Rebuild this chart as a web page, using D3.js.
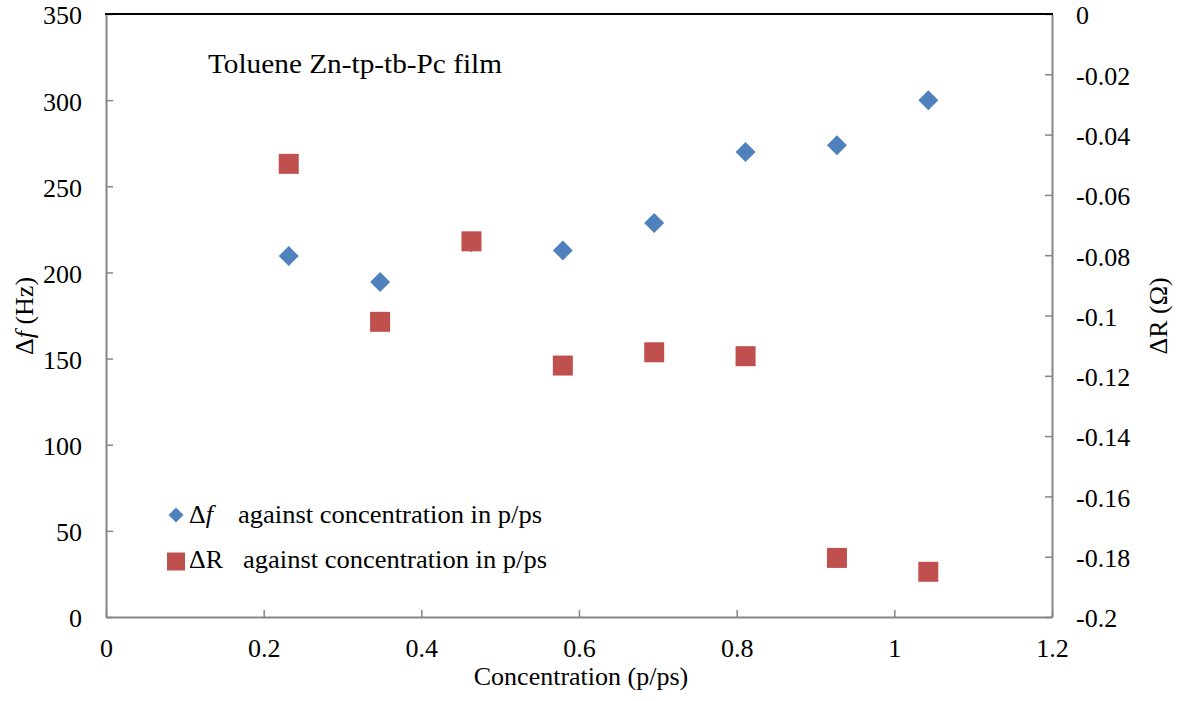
<!DOCTYPE html>
<html><head><meta charset="utf-8">
<script src="https://cdn.jsdelivr.net/npm/d3@7"></script>
<style>
html,body{margin:0;padding:0;background:#fff;}
</style></head>
<body><svg id="c" width="1179" height="701"></svg>
<script>
const concentration = [0.2318, 0.3477, 0.4636, 0.5795, 0.6954, 0.8113, 0.9272, 1.0431];
const deltaF = [209.5, 194.5, 217.5, 212.8, 228.7, 269.9, 273.8, 299.9];
const deltaR = [-0.0497, -0.1021, -0.0754, -0.1166, -0.1122, -0.1135, -0.1804, -0.1850];
const xTicks = [0, 0.2, 0.4, 0.6, 0.8, 1, 1.2];
const yLeftTicks = [0, 50, 100, 150, 200, 250, 300, 350];
const yRightTicks = [0, -0.02, -0.04, -0.06, -0.08, -0.1, -0.12, -0.14, -0.16, -0.18, -0.2];
const titleText = "Toluene Zn-tp-tb-Pc film";
const legendLabels = ["against concentration in p/ps", "against concentration in p/ps"];

const FONT = "Liberation Serif, Tinos, Times New Roman, DejaVu Serif, serif";
const m = {left:106, right:1052, top:14, bottom:617};
const svg = d3.select("#c").attr("font-family",FONT);
const x = d3.scaleLinear().domain([0,1.2]).range([m.left,m.right]);
const yL = d3.scaleLinear().domain([0,350]).range([m.bottom,m.top]);
const yR = d3.scaleLinear().domain([-0.2,0]).range([m.bottom,m.top]);
const FS = 26;
const blue = "#4F81BD", red = "#C0504D", axisCol = "#868686";

const gx = svg.append("g").attr("transform",`translate(0,${m.bottom})`)
  .call(d3.axisBottom(x).tickValues(xTicks).tickSizeInner(-7).tickSizeOuter(0).tickPadding(22).tickFormat(d=>String(d)));
const gl = svg.append("g").attr("transform",`translate(${m.left},0)`)
  .call(d3.axisLeft(yL).tickValues(yLeftTicks).tickSizeInner(-7).tickSizeOuter(0).tickPadding(24).tickFormat(d=>String(d)));
const gr = svg.append("g").attr("transform",`translate(${m.right},0)`)
  .call(d3.axisRight(yR).tickValues(yRightTicks).tickSizeInner(-7).tickSizeOuter(0).tickPadding(24).tickFormat(d=>String(+d.toFixed(2))));
[gx,gl,gr].forEach(g=>{
  g.attr("font-family",FONT).attr("font-size",FS);
  g.select(".domain").attr("stroke",axisCol).attr("stroke-width",2);
  g.selectAll(".tick line").attr("stroke",axisCol).attr("stroke-width",1.5);
  g.selectAll("text").attr("fill","#000");
});
gx.selectAll("text").attr("dy","0.71em");
gl.selectAll("text").attr("dy","0.38em");
gr.selectAll("text").attr("dy","0.38em");
svg.append("line").attr("x1",m.left-1).attr("x2",m.right+1).attr("y1",m.top).attr("y2",m.top)
  .attr("stroke","#000").attr("stroke-width",2);

svg.append("text").attr("x",581).attr("y",685).attr("text-anchor","middle").attr("font-size",FS)
  .text("Concentration (p/ps)");
const lt = svg.append("text").attr("transform","translate(33,316) rotate(-90)").attr("text-anchor","middle").attr("font-size",FS);
lt.append("tspan").text("Δ");
lt.append("tspan").attr("font-style","italic").text("f");
lt.append("tspan").text(" (Hz)");
svg.append("text").attr("transform","translate(1167,316) rotate(-90)").attr("text-anchor","middle").attr("font-size",FS)
  .text("ΔR (Ω)");

svg.append("text").attr("x",208).attr("y",73).attr("font-size",27)
  .attr("textLength",294).attr("lengthAdjust","spacingAndGlyphs").text(titleText);

const data = concentration.map((c,i)=>({c,f:deltaF[i],r:deltaR[i]}));
const diamond = d3.symbol().type(d3.symbolSquare).size(200);
svg.append("g").selectAll("path").data(data).join("path")
  .attr("d",diamond)
  .attr("transform",d=>`translate(${x(d.c)},${yL(d.f)}) rotate(45)`)
  .attr("fill",blue);
svg.append("g").selectAll("rect").data(data).join("rect")
  .attr("x",d=>x(d.c)-10).attr("y",d=>yR(d.r)-10).attr("width",20).attr("height",20)
  .attr("fill",red);

svg.append("path").attr("d",d3.symbol().type(d3.symbolSquare).size(112))
  .attr("transform","translate(176,515) rotate(45)").attr("fill",blue);
const l1 = svg.append("text").attr("x",189).attr("y",523).attr("font-size",FS);
l1.append("tspan").text("Δ");
l1.append("tspan").attr("font-style","italic").text("f");
svg.append("text").attr("x",238).attr("y",523).attr("font-size",FS)
  .attr("textLength",304).attr("lengthAdjust","spacingAndGlyphs").text(legendLabels[0]);
svg.append("rect").attr("x",167).attr("y",552.5).attr("width",18).attr("height",18).attr("fill",red);
svg.append("text").attr("x",189).attr("y",568).attr("font-size",FS).text("ΔR");
svg.append("text").attr("x",243).attr("y",568).attr("font-size",FS)
  .attr("textLength",304).attr("lengthAdjust","spacingAndGlyphs").text(legendLabels[1]);
</script></body></html>
